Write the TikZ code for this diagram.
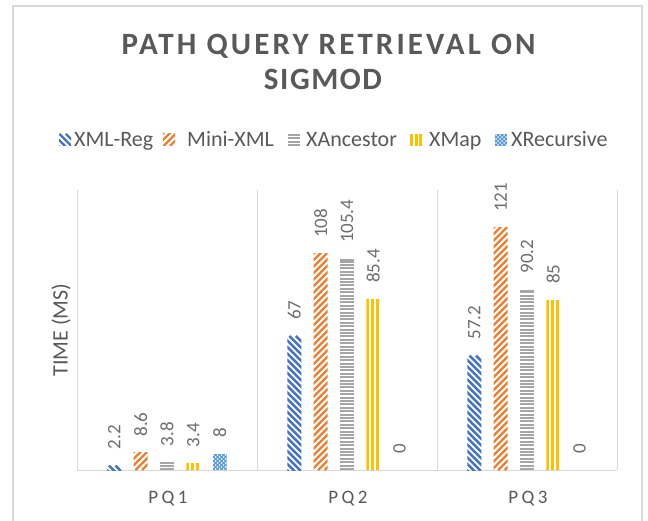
\documentclass[tikz,border=0pt]{standalone}
\usepackage{fontspec}
\setmainfont{Carlito}
\newfontfamily\titlefont[LetterSpace=10]{Carlito}
\newfontfamily\titlefontb[LetterSpace=5]{Carlito}
\newfontfamily\catfont[LetterSpace=18]{Carlito}

\definecolor{sblue}{HTML}{4472C4}
\definecolor{sorange}{HTML}{ED7D31}
\definecolor{sgray}{HTML}{A5A5A5}
\definecolor{sgold}{HTML}{FFC000}
\definecolor{slblue}{HTML}{5B9BD5}
\definecolor{gridc}{HTML}{D9D9D9}
\definecolor{txtdark}{HTML}{595959}
\definecolor{txtmid}{HTML}{6E6E6E}

% ---- pattern fills: #1 left, #2 top, #3 right, #4 bottom, #5 colour ----
\newcommand\patBack[5]{% stripes running down to the right
  \begin{scope}
    \clip (#1,#2) rectangle (#3,#4);
    \fill[white] (#1,#2) rectangle (#3,#4);
    \pgfmathsetmacro\pa{#1-(#4-#2)-7}
    \pgfmathsetmacro\pb{\pa+6.5}
    \foreach \s in {\pa,\pb,...,#3}
      \draw[#5,line width=2.4pt] (\s,#2) -- ++({#4-#2+8},{#4-#2+8});
  \end{scope}}
\newcommand\patFwd[5]{% stripes running up to the right
  \begin{scope}
    \clip (#1,#2) rectangle (#3,#4);
    \fill[white] (#1,#2) rectangle (#3,#4);
    \pgfmathsetmacro\pa{#1-(#4-#2)-7}
    \pgfmathsetmacro\pb{\pa+6.5}
    \foreach \s in {\pa,\pb,...,#3}
      \draw[#5,line width=2.4pt] (\s,#4) -- ++({#4-#2+8},{-(#4-#2+8)});
  \end{scope}}
\newcommand\patHoriz[5]{% horizontal rules
  \begin{scope}
    \clip (#1,#2) rectangle (#3,#4);
    \fill[white] (#1,#2) rectangle (#3,#4);
    \pgfmathsetmacro\pa{#4-1}
    \pgfmathsetmacro\pb{#4-4.4}
    \foreach \s in {\pa,\pb,...,#2}
      \draw[#5,line width=2pt] (#1,\s) -- (#3,\s);
    \draw[#5,line width=2pt] (#1,#2+1) -- (#3,#2+1);
  \end{scope}}
\newcommand\patVert[5]{% vertical rules
  \begin{scope}
    \clip (#1,#2) rectangle (#3,#4);
    \fill[white] (#1,#2) rectangle (#3,#4);
    \pgfmathsetmacro\pa{#1+1.4}
    \pgfmathsetmacro\pb{#1+6.1}
    \foreach \s in {\pa,\pb,...,#3}
      \draw[#5,line width=2.8pt] (\s,#2) -- (\s,#4);
  \end{scope}}
\newcommand\patDots[5]{% solid fill with a lattice of white dots
  \begin{scope}
    \clip (#1,#2) rectangle (#3,#4);
    \fill[#5] (#1,#2) rectangle (#3,#4);
    \pgfmathsetmacro\pa{#1+1}
    \pgfmathsetmacro\pb{#1+5}
    \pgfmathsetmacro\pc{#2+1}
    \pgfmathsetmacro\pd{#2+5}
    \foreach \s in {\pa,\pb,...,#3}
      \foreach \t in {\pc,\pd,...,#4}{
        \fill[white!85!#5] (\s,\t) circle (1pt);
        \fill[white!85!#5] (\s+2,\t+2) circle (1pt);}
  \end{scope}}

\tikzset{
  axisline/.style={gridc,line width=1pt},
  dlab/.style={rotate=90,anchor=west,inner sep=0pt,text=txtmid,
    font=\fontsize{19}{22}\selectfont},
  catlab/.style={anchor=base,inner sep=0pt,text=txtdark,
    font=\catfont\fontsize{19}{22}\selectfont},
  leglab/.style={anchor=base west,inner sep=0pt,text=txtdark,
    font=\fontsize{22}{26}\selectfont},
  titlelab/.style={anchor=base,inner sep=0pt,text=txtdark,
    font=\titlefont\bfseries\fontsize{31}{36}\selectfont},
}

\begin{document}
\begin{tikzpicture}[x=1pt,y=-1pt]
\useasboundingbox (0,0) rectangle (648,521);
\fill[white] (0,0) rectangle (648,521);

% chart frame
\draw[gridc,line width=1.2pt] (13,530) -- (13,6) -- (642,6) -- (642,530);

% title
\node[titlelab] (title1) at (328.5,55) {PATH QUERY RETRIEVAL ON};
\node[titlelab,font=\titlefontb\bfseries\fontsize{31}{36}\selectfont]
  (title2) at (323,90) {SIGMOD};

% legend
\patBack{59}{134}{71}{146}{sblue}
\node[leglab] (leg1) at (74,147) {XML-Reg};
\patFwd{163}{134}{175}{146}{sorange}
\node[leglab] (leg2) at (187,147) {Mini-XML};
\patHoriz{288}{134}{300}{146}{sgray}
\node[leglab] (leg3) at (306,147) {XAncestor};
\patVert{410}{134}{422}{146}{sgold}
\node[leglab] (leg4) at (429,147) {XMap};
\patDots{495}{134}{507}{146}{slblue}
\node[leglab] (leg5) at (511,147) {XRecursive};

% axes and category separators
\draw[axisline] (77,190) -- (77,470);
\foreach \xs in {257,437,617} \draw[axisline] (\xs,190) -- (\xs,470);
\draw[axisline] (77,470) -- (617,470);

% axis title
\node[rotate=90,inner sep=0pt,text=txtdark,font=\fontsize{22}{26}\selectfont]
  (ytitle) at (61,330) {TIME (MS)};

% category labels
\node[catlab] (cat1) at (168,503) {PQ1};
\node[catlab] (cat2) at (348,503) {PQ2};
\node[catlab] (cat3) at (528,503) {PQ3};

% bars: scale 2 px per ms, baseline at 470
\foreach \cx [count=\c] in {167,347,527}{
  \foreach \v [count=\k] in {2.2,67,57.2}{
    \ifnum\k=\c
      \pgfmathsetmacro\bl{\cx-52.6-7}\pgfmathsetmacro\br{\cx-52.6+7}
      \pgfmathsetmacro\bt{470-2*\v}
      \patBack{\bl}{\bt}{\br}{470}{sblue}
      \node[dlab] (v1-\c) at (\cx-52.6,\bt-16) {\v};
    \fi}
  \foreach \v [count=\k] in {8.6,108,121}{
    \ifnum\k=\c
      \pgfmathsetmacro\bl{\cx-26.3-7}\pgfmathsetmacro\br{\cx-26.3+7}
      \pgfmathsetmacro\bt{470-2*\v}
      \patFwd{\bl}{\bt}{\br}{470}{sorange}
      \node[dlab] (v2-\c) at (\cx-26.3,\bt-16) {\v};
    \fi}
  \foreach \v [count=\k] in {3.8,105.4,90.2}{
    \ifnum\k=\c
      \pgfmathsetmacro\bl{\cx-7}\pgfmathsetmacro\br{\cx+7}
      \pgfmathsetmacro\bt{470-2*\v}
      \patHoriz{\bl}{\bt}{\br}{470}{sgray}
      \node[dlab] (v3-\c) at (\cx,\bt-16) {\v};
    \fi}
  \foreach \v [count=\k] in {3.4,85.4,85}{
    \ifnum\k=\c
      \pgfmathsetmacro\bl{\cx+26.3-7}\pgfmathsetmacro\br{\cx+26.3+7}
      \pgfmathsetmacro\bt{470-2*\v}
      \patVert{\bl}{\bt}{\br}{470}{sgold}
      \node[dlab] (v4-\c) at (\cx+26.3,\bt-16) {\v};
    \fi}
}
% XRecursive: only PQ1 has a nonzero value
\patDots{212.6}{454}{226.6}{470}{slblue}
\node[dlab] (v5-1) at (219.6,438) {8};
\node[dlab] (v5-2) at (399.6,454) {0};
\node[dlab] (v5-3) at (579.6,454) {0};
\end{tikzpicture}
\end{document}
